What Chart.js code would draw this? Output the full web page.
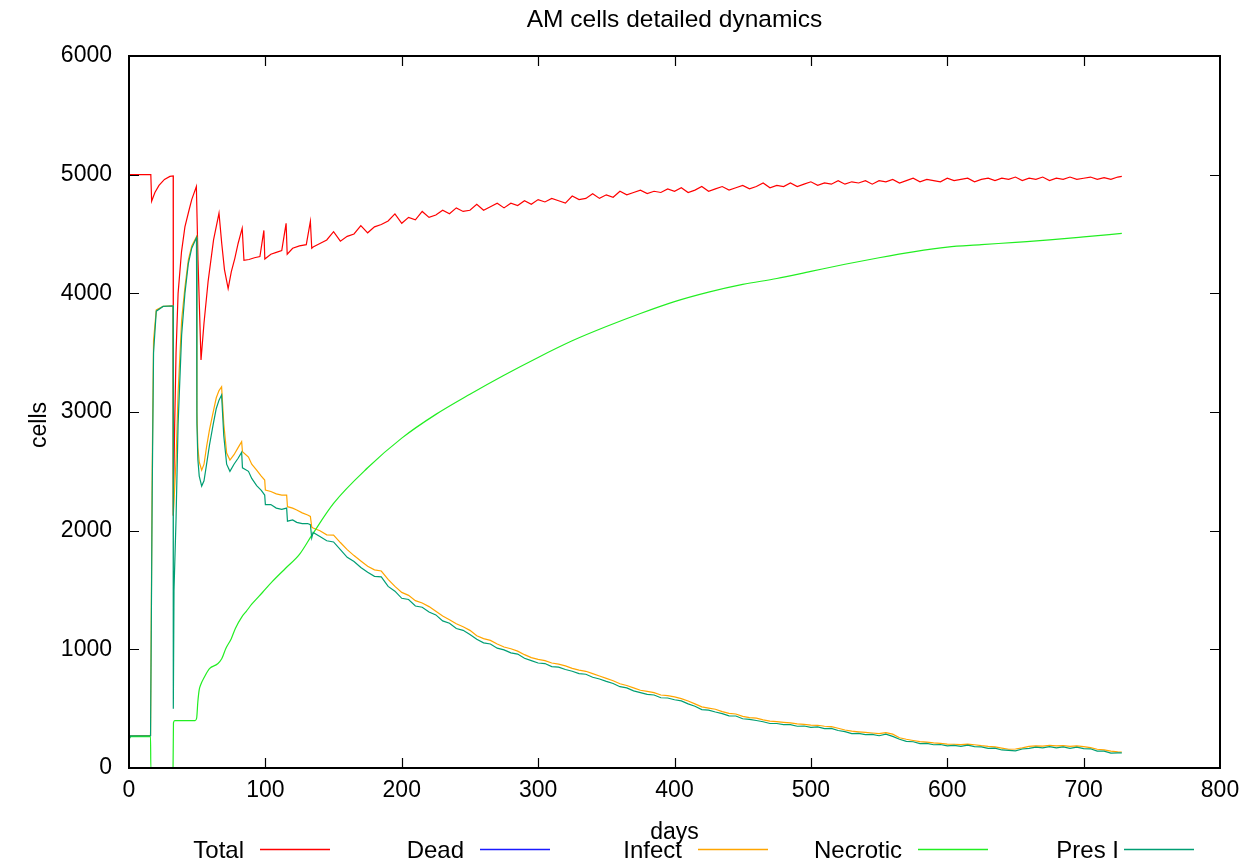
<!DOCTYPE html>
<html>
<head>
<meta charset="utf-8">
<script src="https://cdn.jsdelivr.net/npm/chart.js"></script>
<style>
  html, body { margin:0; padding:0; background:#fff; }
  #wrap { width:1253px; height:866px; position:relative; }
</style>
</head>
<body>
<div id="wrap"><canvas id="am_chart"></canvas></div>
<script>
// AM cells detailed dynamics (line chart)
const FONT = '"Liberation Sans", Arial, Helvetica, sans-serif';

const xTicks = [0, 100, 200, 300, 400, 500, 600, 700, 800];
const yTicks = [0, 1000, 2000, 3000, 4000, 5000, 6000];

// shared days for the later part (135 .. 728)
const tailDays = [
  135,140,145,150,155,160,165,170,175,180,
  185,190,195,200,205,210,215,220,225,230,
  235,240,245,250,255,260,265,270,275,280,
  285,290,295,300,305,310,315,320,325,330,
  335,340,345,350,355,360,365,370,375,380,
  385,390,395,400,405,410,415,420,425,430,
  435,440,445,450,455,460,465,470,475,480,
  485,490,495,500,505,510,515,520,525,530,
  535,540,545,550,555,560,565,570,575,580,
  585,590,595,600,605,610,615,620,625,630,
  635,640,645,650,655,660,665,670,675,680,
  685,690,695,700,705,710,715,720,725,728
];

// Total
const totalEarlyDays = [0,16,16.6,19,22,26,30,32.4,32.5,33.5,34.5,36,38.5,41,44,46,49.4,50.6,52.8,55,
  58,62,66,68,70,72.7,75,77.6,80,83,84.3,88,92,96,98.9,99.6,104,108,112,115.2,116,120,125,130,133,134];
const totalEarly = [5000,5000,4776,4850,4910,4960,4985,4990,2125,2900,3500,4000,4350,4560,4700,4790,4900,4280,3438,3750,
  4100,4450,4675,4420,4200,4040,4180,4295,4420,4549,4278,4285,4300,4310,4530,4290,4330,4345,4360,4590,4330,4380,4400,4410,4607,4380];
const totalTail = [
  4390,4420,4450,4520,4440,4480,4500,4570,4510,4560,
  4580,4610,4670,4590,4640,4620,4690,4640,4660,4700,
  4670,4720,4690,4700,4750,4700,4730,4760,4720,4760,
  4740,4780,4750,4790,4770,4800,4780,4760,4820,4790,
  4800,4840,4800,4830,4810,4860,4830,4850,4870,4840,
  4860,4850,4880,4860,4890,4850,4870,4900,4860,4880,
  4900,4870,4890,4910,4880,4900,4930,4890,4910,4900,
  4930,4900,4920,4940,4910,4930,4920,4950,4920,4940,
  4930,4950,4920,4950,4940,4960,4930,4950,4970,4940,
  4960,4950,4940,4970,4950,4960,4970,4940,4960,4970,
  4950,4970,4960,4980,4950,4970,4960,4980,4950,4970,
  4960,4980,4960,4970,4980,4960,4975,4960,4980,4985
];

// Dead
const deadDays = [0, 728];
const deadCells = [0, 0];

// Infect + Pres I share the early days
const earlyDays = [0,1,15.8,16,17,18,20,25,32.3,32.5,33,34.5,36,38.6,41,43.5,46,49.5,49.8,50.5,
  51.5,53.3,55,56.9,59,61.8,64,66,67.9,69.5,71.6,74,77,80,82.6,83.2,87.6,90,93.6,97,
  99.5,100,104,108,112,115.6,116.2,120,123,127,131,133,134];
const infectEarly = [240,272,275,275,2500,3600,3860,3890,3895,2130,2250,2600,3160,3775,4050,4280,4400,4477,3000,2700,
  2580,2510,2560,2708,2850,3003,3120,3180,3213,2900,2654,2595,2640,2700,2750,2665,2620,2560,2511,2460,
  2427,2343,2330,2310,2300,2300,2202,2190,2174,2150,2132,2120,2030];
const infectTail = [
  2022,2000,1965,1963,1900,1840,1790,1745,1700,1670,
  1660,1590,1530,1480,1455,1410,1390,1360,1320,1280,
  1250,1215,1190,1160,1115,1090,1075,1045,1020,1005,
  985,955,930,915,905,885,875,860,840,825,
  815,795,775,755,735,710,695,675,655,645,
  635,615,610,600,585,565,540,515,505,495,
  475,460,455,435,425,420,405,395,390,385,
  380,372,368,362,360,352,348,335,320,310,
  305,300,295,290,298,285,255,242,232,222,
  218,212,208,202,200,197,202,196,188,182,
  178,168,158,160,170,182,186,185,190,186,
  188,182,186,180,172,158,152,142,136,135
];
const presEarly = [240,270,272,272,2300,3500,3850,3890,3895,500,1500,2100,2900,3650,4000,4250,4380,4470,2900,2600,
  2460,2376,2420,2560,2720,2900,3030,3100,3143,2800,2560,2500,2560,2610,2660,2530,2500,2440,2380,2340,
  2300,2220,2220,2190,2180,2190,2080,2090,2070,2060,2060,2050,1940];
const presTail = [
  1985,1950,1915,1905,1840,1775,1740,1690,1650,1615,
  1610,1530,1490,1430,1420,1365,1355,1315,1290,1240,
  1220,1175,1160,1125,1085,1055,1045,1010,995,970,
  960,925,905,885,880,855,850,830,815,795,
  790,765,750,730,712,685,675,650,635,620,
  615,592,590,575,566,540,520,492,488,472,
  458,440,438,415,410,400,390,375,375,365,
  366,352,354,342,346,332,334,316,306,290,
  292,282,283,272,286,266,242,224,221,206,
  207,196,198,186,190,182,192,180,178,166,
  168,152,148,145,160,166,176,170,180,170,
  178,166,176,164,162,142,142,126,127,128
];

// Necrotic
const necDays = [0,1,15.8,16,32.3,32.6,33.5,48.5,49.6,50.5,51.5,52.5,55,59,65,68,71,75,78,83,86,90,98,105,115,125,134,
  150,175,200,225,250,275,300,325,350,375,400,425,450,475,500,525,550,575,600,625,650,675,700,728];
const necCells = [236,264,264,0,0,380,400,400,420,560,660,700,760,837,878,920,1007,1090,1176,1278,1320,1380,1481,1570,1685,1800,1960,
  2230,2530,2780,2980,3150,3310,3460,3600,3720,3830,3930,4010,4075,4125,4185,4245,4300,4350,4390,4410,4430,4450,4475,4505];

const totalDays = [...totalEarlyDays, ...tailDays];
const totalCells = [...totalEarly, ...totalTail];
const infDays = [...earlyDays, ...tailDays];
const infectCells = [...infectEarly, ...infectTail];
const presCells = [...presEarly, ...presTail];

const seriesNames = ['Total', 'Dead', 'Infect', 'Necrotic', 'Pres I'];
const seriesColors = ['#ff0000', '#1a1aff', '#ffa500', '#22ee22', '#009e73'];
const legendLineX = [260, 480, 698, 918, 1124];
const legendTextGap = [16, 16, 16, 16, 5];

function pts(days, vals) {
  return days.map((d, i) => ({x: d, y: vals[i]}));
}

// frame, inner ticks, titles, legend (gnuplot look)
const gnuFrame = {
  id: 'gnuFrame',
  afterDatasetsDraw(chart) {
    const ctx = chart.ctx, a = chart.chartArea;
    const xs = chart.scales.x, ys = chart.scales.y;
    ctx.save();
    ctx.strokeStyle = '#000';
    ctx.lineWidth = 1.2;
    ctx.beginPath();
    yTicks.forEach(v => {
      if (v === 0 || v === 6000) return;
      const y = Math.round(ys.getPixelForValue(v)) + 0.5;
      ctx.moveTo(a.left, y); ctx.lineTo(a.left + 10, y);
      ctx.moveTo(a.right, y); ctx.lineTo(a.right - 10, y);
    });
    xTicks.forEach(v => {
      if (v === 0 || v === 800) return;
      const x = Math.round(xs.getPixelForValue(v)) + 0.5;
      ctx.moveTo(x, a.bottom); ctx.lineTo(x, a.bottom - 10);
      ctx.moveTo(x, a.top); ctx.lineTo(x, a.top + 10);
    });
    ctx.stroke();
    ctx.lineWidth = 2;
    ctx.strokeRect(a.left, a.top, a.right - a.left, a.bottom - a.top);
    ctx.restore();
  },
  afterDraw(chart) {
    const ctx = chart.ctx, a = chart.chartArea;
    const cx = (a.left + a.right) / 2;
    ctx.save();
    ctx.fillStyle = '#000';
    ctx.textBaseline = 'alphabetic';
    ctx.textAlign = 'center';
    ctx.font = '24.5px ' + FONT;
    ctx.fillText('AM cells detailed dynamics', cx, 27);
    ctx.font = '23px ' + FONT;
    ctx.fillText('days', cx, 839);
    ctx.save();
    ctx.translate(46, 425);
    ctx.rotate(-Math.PI / 2);
    ctx.fillText('cells', 0, 0);
    ctx.restore();
    // legend along the bottom
    ctx.font = '24px ' + FONT;
    ctx.textAlign = 'right';
    seriesNames.forEach((name, i) => {
      const lx = legendLineX[i];
      ctx.fillStyle = '#000';
      ctx.fillText(name, lx - legendTextGap[i], 858);
      ctx.strokeStyle = seriesColors[i];
      ctx.lineWidth = 1.3;
      ctx.beginPath();
      ctx.moveTo(lx, 849.5); ctx.lineTo(lx + 70, 849.5);
      ctx.stroke();
    });
    ctx.restore();
  }
};

const seriesData = [
  pts(totalDays, totalCells),
  pts(deadDays, deadCells),
  pts(infDays, infectCells),
  pts(necDays, necCells),
  pts(infDays, presCells)
];

const amChart = new Chart(document.getElementById('am_chart').getContext('2d'), {
  type: 'line',
  plugins: [gnuFrame],
  data: {
    datasets: seriesNames.map((name, i) => ({
      label: name,
      data: seriesData[i],
      borderColor: seriesColors[i],
      backgroundColor: seriesColors[i],
      borderWidth: 1.2,
      pointRadius: 0,
      tension: 0,
      cubicInterpolationMode: name === 'Necrotic' ? 'monotone' : 'default',
      order: 5 - i,   // later series on top, like gnuplot
      fill: false
    }))
  },
  options: {
    responsive: true,
    maintainAspectRatio: false,
    animation: false,
    layout: { padding: { top: 56, right: 33, bottom: 0, left: 0 } },
    scales: {
      x: {
        type: 'linear',
        min: 0, max: 800,
        afterFit: s => { s.height = 98; },
        afterBuildTicks: s => { s.ticks = xTicks.map(v => ({value: v})); },
        grid: { display: false, drawTicks: false },
        border: { display: false },
        ticks: { color: '#000', padding: 9, maxRotation: 0, font: { size: 23, family: FONT },
          callback: v => String(v) }
      },
      y: {
        type: 'linear',
        min: 0, max: 6000,
        afterFit: s => { s.width = 129; },
        afterBuildTicks: s => { s.ticks = yTicks.map(v => ({value: v})); },
        grid: { display: false, drawTicks: false },
        border: { display: false },
        ticks: { color: '#000', padding: 17, font: { size: 23, family: FONT },
          callback: v => String(v) }
      }
    },
    plugins: {
      legend: { display: false },
      tooltip: { enabled: false },
      title: { display: false }
    }
  }
});
</script>
</body>
</html>
